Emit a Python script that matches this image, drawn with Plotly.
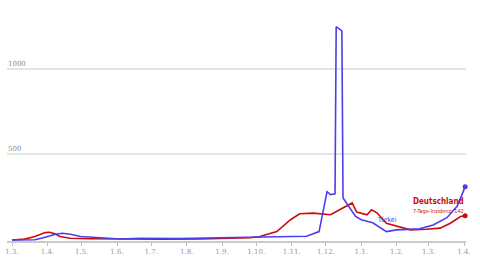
import plotly.graph_objects as go

de_dates = ["2020-03-01","2020-03-12","2020-03-21","2020-03-30","2020-04-03","2020-04-08",
            "2020-04-12","2020-04-21","2020-05-08","2020-06-04","2020-07-09","2020-08-13",
            "2020-09-08","2020-09-26","2020-10-04","2020-10-19","2020-10-31","2020-11-08",
            "2020-11-20","2020-12-05","2020-12-13","2020-12-24","2020-12-28","2021-01-06",
            "2021-01-10","2021-01-15","2021-01-23","2021-02-04","2021-02-13","2021-02-27",
            "2021-03-11","2021-03-20","2021-03-29","2021-04-02"]
de_vals = [0,5,20,43,45,35,20,10,7,4,4,6,8,13,20,49,118,153,157,147,176,216,163,147,
           176,157,98,78,59,63,69,98,137,142]

tr_dates = ["2020-03-01","2020-03-21","2020-03-30","2020-04-08","2020-04-14","2020-04-21",
            "2020-04-30","2020-05-17","2020-06-04","2020-06-21","2020-07-26","2020-08-30",
            "2020-10-04","2020-11-14","2020-11-25","2020-12-02","2020-12-05","2020-12-09",
            "2020-12-10","2020-12-15","2020-12-16","2020-12-22","2020-12-27","2021-01-01",
            "2021-01-11","2021-01-23","2021-02-01","2021-02-21","2021-03-05","2021-03-17",
            "2021-03-26","2021-04-02"]
tr_vals = [0,1,16,33,39,33,20,12,6,10,8,13,17,22,49,282,265,270,1245,1220,245,190,137,
           118,100,49,59,65,88,130,196,310]

tick_vals = ["2020-03-01","2020-04-01","2020-05-01","2020-06-01","2020-07-01","2020-08-01",
             "2020-09-01","2020-10-01","2020-11-01","2020-12-01","2021-01-01","2021-02-01",
             "2021-03-01","2021-04-01"]
tick_text = ["1.3.","1.4.","1.5.","1.6.","1.7.","1.8.","1.9.","1.10.","1.11.","1.12.",
             "1.1.","1.2.","1.3.","1.4."]
y_ticks = [500, 1000]

RED = "#cc0c0c"
BLUE = "#4a3ef0"
NARROW = "Liberation Sans Narrow, DejaVu Sans Condensed, sans-serif"

fig = go.Figure()
fig.add_trace(go.Scatter(x=de_dates, y=de_vals, mode="lines", line=dict(color=RED, width=1.6),
                         hoverinfo="skip"))
fig.add_trace(go.Scatter(x=tr_dates, y=tr_vals, mode="lines", line=dict(color=BLUE, width=1.6),
                         hoverinfo="skip"))
fig.add_trace(go.Scatter(x=[de_dates[-1]], y=[de_vals[-1]], mode="markers",
                         marker=dict(color=RED, size=5), cliponaxis=False, hoverinfo="skip"))
fig.add_trace(go.Scatter(x=[tr_dates[-1]], y=[tr_vals[-1]], mode="markers",
                         marker=dict(color=BLUE, size=5), cliponaxis=False, hoverinfo="skip"))

fig.add_annotation(x="2021-04-02", y=190, text="<b>Deutschland</b>", showarrow=False,
                   xanchor="right", yanchor="bottom", borderpad=0,
                   font=dict(family=NARROW, size=8, color=RED))
fig.add_annotation(x="2021-04-02", y=190, text="7-Tage-Inzidenz: 142", showarrow=False,
                   xanchor="right", yanchor="top", borderpad=0,
                   font=dict(family=NARROW, size=5.5, color=RED))
fig.add_annotation(x="2021-01-13", y=117, text="Türkei", showarrow=False,
                   xanchor="left", yanchor="middle",
                   font=dict(family=NARROW, size=7, color=BLUE))

for v in y_ticks:
    fig.add_annotation(x=0, xref="paper", y=v, text=str(v), showarrow=False,
                       xanchor="left", yanchor="bottom", xshift=-1, yshift=-1,
                       font=dict(family="DejaVu Serif, serif", size=7, color="#888888"))

fig.update_layout(
    width=480, height=257,
    margin=dict(l=7, r=14, t=1, b=16),
    plot_bgcolor="white", paper_bgcolor="white",
    showlegend=False,
    xaxis=dict(
        type="date",
        range=["2020-02-25 14:00", "2021-04-02 18:00"],
        tickvals=tick_vals, ticktext=tick_text,
        showgrid=False, zeroline=False,
        showline=True, linecolor="#cccccc", linewidth=2,
        ticks="outside", ticklen=3, tickcolor="#bbbbbb", tickwidth=1,
        tickfont=dict(family="DejaVu Serif, serif", size=7, color="#999999"),
    ),
    yaxis=dict(
        range=[-6, 1395],
        tickvals=y_ticks, showticklabels=False,
        showgrid=True, gridcolor="#e4e4e4", gridwidth=1.5,
        zeroline=False, showline=False, ticks="",
    ),
)

fig.write_html("out.html")
